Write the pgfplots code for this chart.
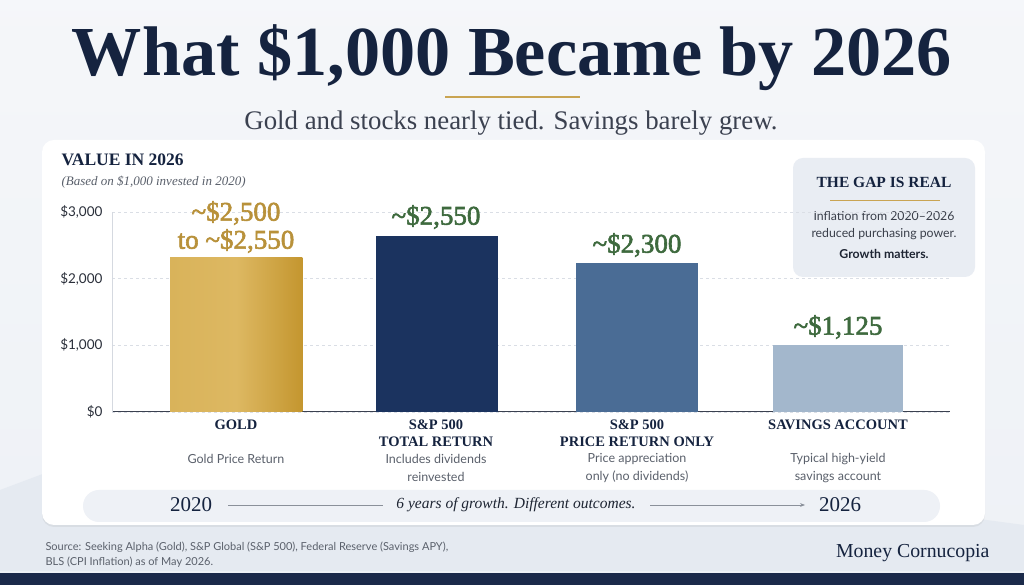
\documentclass[border=0pt]{standalone}
\usepackage{pgfplots}
\pgfplotsset{compat=1.18}
\usepackage{fontspec}
\setmainfont{Liberation Serif}
\newfontfamily\lato{Lato}
\newfontfamily\semiserif[FakeBold=2.2]{Liberation Serif}
\usetikzlibrary{shadows,arrows.meta}
\definecolor{navy}{HTML}{15233F}
\definecolor{goldline}{HTML}{C9A452}
\definecolor{goldtxt}{HTML}{B8913A}
\definecolor{greentxt}{HTML}{3E6A3E}
\definecolor{graytxt}{HTML}{5A606B}
\definecolor{bgc}{HTML}{EEF1F6}
\definecolor{goldL}{HTML}{D9B35A}
\definecolor{goldM}{HTML}{DDB862}
\definecolor{goldR}{HTML}{C4962F}
\definecolor{barnavy}{HTML}{1B335F}
\definecolor{barmid}{HTML}{4A6C95}
\definecolor{barlight}{HTML}{A3B7CC}
\definecolor{footbg}{HTML}{E5EAF1}
\definecolor{footnavy}{HTML}{1B2A4A}
\definecolor{subtxt}{HTML}{3B4150}
\definecolor{boxbg}{HTML}{E9EDF3}
\definecolor{boxtxt}{HTML}{3A3F4A}
\definecolor{darktxt}{HTML}{1E2533}
\definecolor{axisdark}{HTML}{3B4150}
\definecolor{axislight}{HTML}{D5D9E0}
\definecolor{gridc}{HTML}{DADEE5}
\definecolor{ticktxt}{HTML}{2A2F3A}
\definecolor{linegray}{HTML}{8A909A}
\begin{document}
\begin{tikzpicture}[x=1pt,y=1pt]
% background
\fill[top color=white!40!bgc, bottom color=bgc] (0,0) rectangle (1024,585);
\fill[footbg] (0,14) -- (0,95) -- (200,170) -- (1024,60) -- (1024,14) -- cycle;
\fill[footbg] (0,14) rectangle (1024,58);
\fill[footnavy] (0,0) rectangle (1024,12);
% title
\node[navy, anchor=base, inner sep=0pt] at (512,509) {\resizebox{880pt}{!}{\bfseries What \$1,000 Became by 2026}};
\draw[goldline, line width=1.2pt] (445,488) -- (580,488);
\node[subtxt, anchor=base, inner sep=0pt] at (511,455) {\resizebox{533pt}{!}{Gold and stocks nearly tied. Savings barely grew.}};
% card
\fill[white, rounded corners=12pt, drop shadow={opacity=0.12, shadow xshift=0pt, shadow yshift=-2pt}] (42,60) rectangle (985,445);
\node[navy, anchor=west, font=\bfseries\fontsize{17.5}{19}\selectfont] at (58,425) {VALUE IN 2026};
\node[graytxt, anchor=west, font=\itshape\fontsize{13}{15}\selectfont] at (58,403) {(Based on \$1,000 invested in 2020)};
% gap box
\fill[boxbg, rounded corners=10pt] (793,308) rectangle (975,427);
\node[navy, font=\bfseries\fontsize{15.5}{17}\selectfont] at (884,403) {THE GAP IS REAL};
\draw[goldline, line width=0.6pt] (830,385) -- (940,385);
\node[boxtxt, font=\lato\fontsize{12.3}{14}\selectfont] at (884,369) {Inflation from 2020–2026};
\node[boxtxt, font=\lato\fontsize{12.3}{14}\selectfont] at (884,351) {reduced purchasing power.};
\node[darktxt, font=\lato\bfseries\fontsize{12.3}{14}\selectfont] at (884,331) {Growth matters.};
% axis
\begin{axis}[
  at={(112pt,173pt)}, anchor=south west,
  scale only axis, width=838pt, height=200pt,
  xmin=-0.62, xmax=3.56, ymin=0, ymax=3000,
  axis x line*=bottom, axis y line*=left,
  x axis line style={draw=axisdark, line width=1pt, -},
  y axis line style={draw=axislight, -},
  xtick=\empty,
  ytick={0,1000,2000,3000},
  yticklabels={{\$0},{\$1,000},{\$2,000},{\$3,000}},
  yticklabel style={font=\lato\fontsize{13.5}{15}\selectfont, text=ticktxt, xshift=-6pt},
  major tick length=0pt,
  ymajorgrids, grid style={dashed, draw=gridc},
  clip=false,
]
\addplot[ybar, bar width=0.66, bar shift=0pt, draw=none, left color=goldL, right color=goldR, middle color=goldM] coordinates {(0,2310)};
\addplot[ybar, bar width=0.61, bar shift=0pt, draw=none, fill=barnavy] coordinates {(1,2640)};
\addplot[ybar, bar width=0.61, bar shift=0pt, draw=none, fill=barmid] coordinates {(2,2235)};
\addplot[ybar, bar width=0.65, bar shift=0pt, draw=none, fill=barlight] coordinates {(3,1005)};
\end{axis}
% bar value labels
\begin{scope}[every node/.style={font=\semiserif\fontsize{27}{29}\selectfont}]
\node[goldtxt] at (236,372) {\textasciitilde\$2,500};
\node[goldtxt] at (236,344) {to \textasciitilde\$2,550};
\node[greentxt] at (436,368) {\textasciitilde\$2,550};
\node[greentxt] at (637,340) {\textasciitilde\$2,300};
\node[greentxt] at (838,258) {\textasciitilde\$1,125};
\end{scope}
% category labels
\begin{scope}[every node/.style={navy, font=\bfseries\fontsize{14.5}{16}\selectfont}]
\node at (236,160) {GOLD};
\node at (436,160) {S\&P 500};
\node at (436,143) {TOTAL RETURN};
\node at (637,160) {S\&P 500};
\node at (637,143) {PRICE RETURN ONLY};
\node at (838,160) {SAVINGS ACCOUNT};
\end{scope}
\begin{scope}[every node/.style={graytxt, font=\lato\fontsize{12.5}{14}\selectfont}]
\node at (236,126) {Gold Price Return};
\node at (436,126) {Includes dividends};
\node at (436,108) {reinvested};
\node at (637,126) {Price appreciation};
\node at (637,108) {only (no dividends)};
\node at (838,126) {Typical high-yield};
\node at (838,108) {savings account};
\end{scope}
% timeline
\fill[bgc, rounded corners=16pt] (83,63) rectangle (940,95);
\node[navy, font=\fontsize{21}{23}\selectfont] at (191,80) {2020};
\draw[linegray, line width=0.6pt] (228,80) -- (383,80);
\node[darktxt, font=\itshape\fontsize{15.5}{18}\selectfont] at (516,80) {6 years of growth. Different outcomes.};
\draw[linegray, line width=0.6pt, -{Stealth[length=5pt]}] (650,80) -- (805,80);
\node[navy, font=\fontsize{21}{23}\selectfont] at (840,80) {2026};
% footer
\node[graytxt, anchor=west, font=\lato\fontsize{11}{13}\selectfont] at (42,38) {Source: Seeking Alpha (Gold), S\&P Global (S\&P 500), Federal Reserve (Savings APY),};
\node[graytxt, anchor=west, font=\lato\fontsize{11}{13}\selectfont] at (42,23) {BLS (CPI Inflation) as of May 2026.};
\node[navy, anchor=east, font=\fontsize{19.8}{22}\selectfont] at (993,32) {Money Cornucopia};
\end{tikzpicture}
\end{document}
